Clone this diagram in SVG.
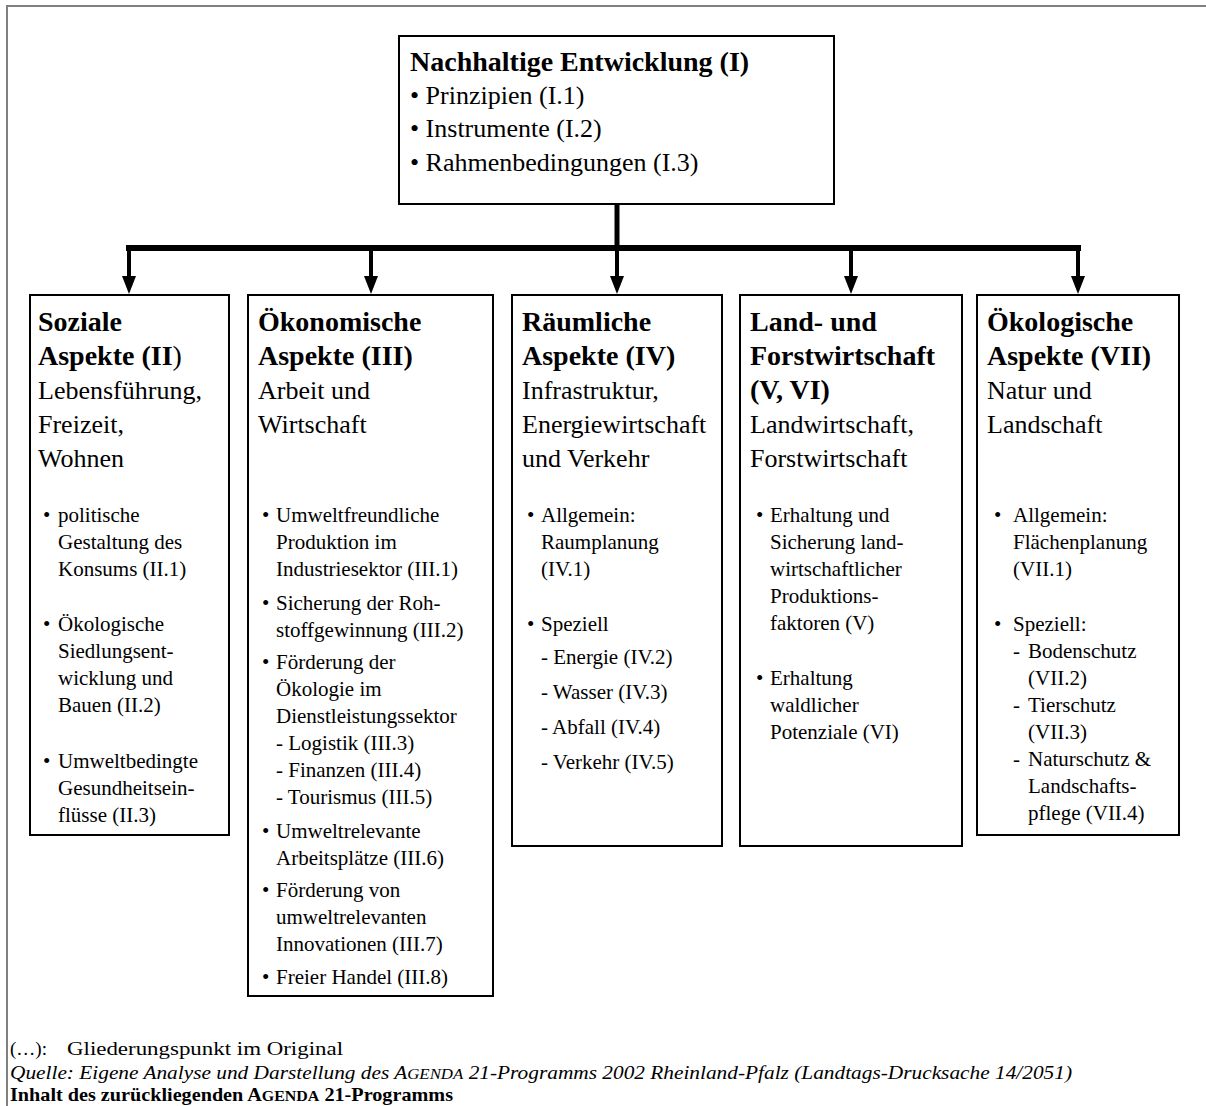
<svg xmlns="http://www.w3.org/2000/svg" width="1206" height="1106" viewBox="0 0 1206 1106">
<defs>
<style>
text{font-family:"Liberation Serif","Times New Roman",serif;fill:#000}
.h{font-size:28px;font-weight:bold}
.s{font-size:26px}
.i{font-size:21px}
.f{font-size:19px}
.box{fill:#fff;stroke:#000;stroke-width:2}
.con{stroke:#000;fill:none}
.n{font-weight:normal}
</style>
<marker id="ah" markerUnits="userSpaceOnUse" viewBox="0 0 18 14" markerWidth="18" markerHeight="14" refX="4" refY="7" orient="auto">
<path d="M0,0 L18,7 L0,14 z" fill="#000"/>
</marker>
</defs>
<rect width="1206" height="1106" fill="#fff"/>
<path d="M7,1106 V6 H1206" fill="none" stroke="#808080" stroke-width="2"/>

<g id="connectors">
<line class="con" x1="617" y1="204" x2="617" y2="248" stroke-width="5"/>
<line class="con" x1="126" y1="248" x2="1081" y2="248" stroke-width="6"/>
<line class="con" x1="129" y1="248" x2="129" y2="280" stroke-width="4" marker-end="url(#ah)"/>
<line class="con" x1="371" y1="248" x2="371" y2="280" stroke-width="4" marker-end="url(#ah)"/>
<line class="con" x1="617" y1="248" x2="617" y2="280" stroke-width="4" marker-end="url(#ah)"/>
<line class="con" x1="851" y1="248" x2="851" y2="280" stroke-width="4" marker-end="url(#ah)"/>
<line class="con" x1="1078" y1="248" x2="1078" y2="280" stroke-width="4" marker-end="url(#ah)"/>
</g>

<g id="node-I">
<rect class="box" x="399" y="36" width="435" height="168"/>
<text class="h" x="410" y="71">Nachhaltige Entwicklung (I)</text>
<text class="s" x="410" y="104">• Prinzipien (I.1)</text>
<text class="s" x="410" y="137">• Instrumente (I.2)</text>
<text class="s" x="410" y="171">• Rahmenbedingungen (I.3)</text>
</g>

<g id="node-II">
<rect class="box" x="30" y="295" width="199" height="540"/>
<text class="h" x="38" y="331">Soziale</text>
<text class="h" x="38" y="365">Aspekte (II<tspan class="n">)</tspan></text>
<text class="s" x="38" y="399">Lebensführung,</text>
<text class="s" x="38" y="433">Freizeit,</text>
<text class="s" x="38" y="467">Wohnen</text>
<g class="i">
<text class="i" x="43" y="522">•</text>
<text class="i" x="58" y="522">politische</text>
<text class="i" x="58" y="549">Gestaltung des</text>
<text class="i" x="58" y="576">Konsums (II.1)</text>
<text class="i" x="43" y="631">•</text>
<text class="i" x="58" y="631">Ökologische</text>
<text class="i" x="58" y="658">Siedlungsent-</text>
<text class="i" x="58" y="685">wicklung und</text>
<text class="i" x="58" y="712">Bauen (II.2)</text>
<text class="i" x="43" y="768">•</text>
<text class="i" x="58" y="768">Umweltbedingte</text>
<text class="i" x="58" y="795">Gesundheitsein-</text>
<text class="i" x="58" y="822">flüsse (II.3)</text>
</g>
</g>

<g id="node-III">
<rect class="box" x="248" y="295" width="245" height="701"/>
<text class="h" x="258" y="331">Ökonomische</text>
<text class="h" x="258" y="365">Aspekte (III)</text>
<text class="s" x="258" y="399">Arbeit und</text>
<text class="s" x="258" y="433">Wirtschaft</text>
<text class="i" x="262" y="522">•</text>
<text class="i" x="276" y="522">Umweltfreundliche</text>
<text class="i" x="276" y="549">Produktion im</text>
<text class="i" x="276" y="576">Industriesektor (III.1)</text>
<text class="i" x="262" y="610">•</text>
<text class="i" x="276" y="610">Sicherung der Roh-</text>
<text class="i" x="276" y="637">stoffgewinnung (III.2)</text>
<text class="i" x="262" y="669">•</text>
<text class="i" x="276" y="669">Förderung der</text>
<text class="i" x="276" y="696">Ökologie im</text>
<text class="i" x="276" y="723">Dienstleistungssektor</text>
<text class="i" x="276" y="750">- Logistik (III.3)</text>
<text class="i" x="276" y="777">- Finanzen (III.4)</text>
<text class="i" x="276" y="804">- Tourismus (III.5)</text>
<text class="i" x="262" y="838">•</text>
<text class="i" x="276" y="838">Umweltrelevante</text>
<text class="i" x="276" y="865">Arbeitsplätze (III.6)</text>
<text class="i" x="262" y="897">•</text>
<text class="i" x="276" y="897">Förderung von</text>
<text class="i" x="276" y="924">umweltrelevanten</text>
<text class="i" x="276" y="951">Innovationen (III.7)</text>
<text class="i" x="262" y="984">•</text>
<text class="i" x="276" y="984">Freier Handel (III.8)</text>
</g>

<g id="node-IV">
<rect class="box" x="512" y="295" width="210" height="551"/>
<text class="h" x="522" y="331">Räumliche</text>
<text class="h" x="522" y="365">Aspekte (IV)</text>
<text class="s" x="522" y="399">Infrastruktur,</text>
<text class="s" x="522" y="433">Energiewirtschaft</text>
<text class="s" x="522" y="467">und Verkehr</text>
<text class="i" x="527" y="522">•</text>
<text class="i" x="541" y="522">Allgemein:</text>
<text class="i" x="541" y="549">Raumplanung</text>
<text class="i" x="541" y="576">(IV.1)</text>
<text class="i" x="527" y="631">•</text>
<text class="i" x="541" y="631">Speziell</text>
<text class="i" x="541" y="664">- Energie (IV.2)</text>
<text class="i" x="541" y="699">- Wasser (IV.3)</text>
<text class="i" x="541" y="734">- Abfall (IV.4)</text>
<text class="i" x="541" y="769">- Verkehr (IV.5)</text>
</g>

<g id="node-V-VI">
<rect class="box" x="740" y="295" width="222" height="551"/>
<text class="h" x="750" y="331">Land- und</text>
<text class="h" x="750" y="365">Forstwirtschaft</text>
<text class="h" x="750" y="399">(V, VI)</text>
<text class="s" x="750" y="433">Landwirtschaft,</text>
<text class="s" x="750" y="467">Forstwirtschaft</text>
<text class="i" x="756" y="522">•</text>
<text class="i" x="770" y="522">Erhaltung und</text>
<text class="i" x="770" y="549">Sicherung land-</text>
<text class="i" x="770" y="576">wirtschaftlicher</text>
<text class="i" x="770" y="603">Produktions-</text>
<text class="i" x="770" y="630">faktoren (V)</text>
<text class="i" x="756" y="685">•</text>
<text class="i" x="770" y="685">Erhaltung</text>
<text class="i" x="770" y="712">waldlicher</text>
<text class="i" x="770" y="739">Potenziale (VI)</text>
</g>

<g id="node-VII">
<rect class="box" x="977" y="295" width="202" height="540"/>
<text class="h" x="987" y="331">Ökologische</text>
<text class="h" x="987" y="365">Aspekte (VII)</text>
<text class="s" x="987" y="399">Natur und</text>
<text class="s" x="987" y="433">Landschaft</text>
<text class="i" x="994" y="522">•</text>
<text class="i" x="1013" y="522">Allgemein:</text>
<text class="i" x="1013" y="549">Flächenplanung</text>
<text class="i" x="1013" y="576">(VII.1)</text>
<text class="i" x="994" y="631">•</text>
<text class="i" x="1013" y="631">Speziell:</text>
<text class="i" x="1013" y="658">-</text>
<text class="i" x="1028" y="658">Bodenschutz</text>
<text class="i" x="1028" y="685">(VII.2)</text>
<text class="i" x="1013" y="712">-</text>
<text class="i" x="1028" y="712">Tierschutz</text>
<text class="i" x="1028" y="739">(VII.3)</text>
<text class="i" x="1013" y="766">-</text>
<text class="i" x="1028" y="766">Naturschutz &amp;</text>
<text class="i" x="1028" y="793">Landschafts-</text>
<text class="i" x="1028" y="820">pflege (VII.4)</text>
</g>

<g id="legend">
<text class="f" x="10" y="1055">(…):</text>
<text class="f" x="67" y="1055" textLength="276" lengthAdjust="spacingAndGlyphs">Gliederungspunkt im Original</text>
<text class="f" x="10" y="1079" font-style="italic" textLength="1062" lengthAdjust="spacingAndGlyphs">Quelle:  Eigene Analyse und Darstellung des A<tspan font-size="15">GENDA</tspan> 21-Programms 2002 Rheinland-Pfalz (Landtags-Drucksache 14/2051)</text>
<text class="f" x="10" y="1101" font-weight="bold" textLength="443" lengthAdjust="spacingAndGlyphs">Inhalt des zurückliegenden A<tspan font-size="15">GENDA</tspan> 21-Programms</text>
</g>
</svg>
